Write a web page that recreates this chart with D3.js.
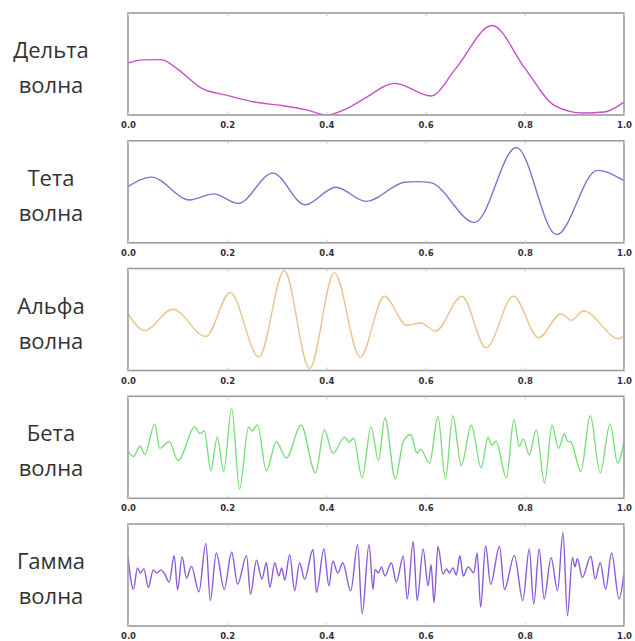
<!DOCTYPE html>
<html>
<head>
<meta charset="utf-8">
<script src="https://cdn.jsdelivr.net/npm/d3@7"></script>
<style>
  html, body { margin: 0; padding: 0; background: #fff; }
  svg { display: block; }
</style>
</head>
<body>
<svg id="chart" width="635" height="641"></svg>
<script>
// ---- data (x in 0..1, y = relative amplitude 0..1, bottom..top) ----
const panelNames = ["Дельта", "Тета", "Альфа", "Бета", "Гамма"];
const waveWord = "волна";
const xTicks = [0.0, 0.2, 0.4, 0.6, 0.8, 1.0];

const deltaX = [0, 0.03, 0.067, 0.1, 0.149, 0.2, 0.255, 0.31, 0.36, 0.4, 0.44, 0.476, 0.538, 0.611, 0.66, 0.734, 0.8, 0.86, 0.918, 0.96, 1.0];
const deltaY = [0.51, 0.54, 0.543, 0.45, 0.26, 0.193, 0.127, 0.093, 0.05, 0.0, 0.06, 0.16, 0.31, 0.187, 0.45, 0.877, 0.46, 0.093, 0.02, 0.03, 0.127];

const thetaX = [0, 0.047, 0.124, 0.173, 0.222, 0.292, 0.357, 0.419, 0.48, 0.558, 0.583, 0.61, 0.699, 0.783, 0.864, 0.946, 1.0];
const thetaY = [0.551, 0.644, 0.42, 0.48, 0.386, 0.683, 0.373, 0.545, 0.406, 0.594, 0.6, 0.59, 0.2, 0.935, 0.08, 0.71, 0.61];

const alphaX = [0, 0.034, 0.09, 0.157, 0.206, 0.264, 0.315, 0.366, 0.416, 0.468, 0.517, 0.562, 0.59, 0.62, 0.673, 0.722, 0.777, 0.828, 0.873, 0.894, 0.918, 0.99, 1.0];
const alphaY = [0.557, 0.393, 0.6, 0.334, 0.764, 0.131, 0.98, 0.02, 0.96, 0.131, 0.728, 0.443, 0.466, 0.387, 0.728, 0.223, 0.728, 0.321, 0.557, 0.492, 0.584, 0.311, 0.34];

const betaX = [0, 0.011, 0.024, 0.034, 0.054, 0.064, 0.083, 0.101, 0.135, 0.145, 0.154, 0.167, 0.18, 0.193, 0.209, 0.225, 0.243, 0.25, 0.261, 0.279, 0.299, 0.319, 0.349, 0.378, 0.396, 0.413, 0.437, 0.446, 0.455, 0.472, 0.49, 0.505, 0.518, 0.539, 0.555, 0.57, 0.583, 0.59, 0.608, 0.625, 0.64, 0.655, 0.672, 0.692, 0.712, 0.726, 0.734, 0.742, 0.763, 0.778, 0.789, 0.797, 0.809, 0.823, 0.84, 0.855, 0.868, 0.88, 0.886, 0.893, 0.913, 0.932, 0.952, 0.972, 0.987, 1.0];
const betaY = [0.46, 0.41, 0.51, 0.43, 0.73, 0.49, 0.555, 0.37, 0.70, 0.635, 0.66, 0.27, 0.60, 0.265, 0.884, 0.09, 0.70, 0.66, 0.72, 0.27, 0.555, 0.394, 0.716, 0.25, 0.67, 0.44, 0.60, 0.55, 0.59, 0.20, 0.70, 0.37, 0.79, 0.19, 0.555, 0.625, 0.44, 0.48, 0.345, 0.80, 0.19, 0.81, 0.32, 0.716, 0.30, 0.60, 0.52, 0.56, 0.20, 0.774, 0.51, 0.58, 0.426, 0.67, 0.15, 0.716, 0.49, 0.635, 0.56, 0.55, 0.265, 0.81, 0.25, 0.73, 0.345, 0.555];

const gammaX = [0, 0.011, 0.019, 0.025, 0.032, 0.041, 0.051, 0.058, 0.066, 0.074, 0.083, 0.093, 0.10, 0.109, 0.118, 0.128, 0.143, 0.157, 0.166, 0.178, 0.194, 0.209, 0.221, 0.239, 0.247, 0.259, 0.27, 0.279, 0.286, 0.296, 0.304, 0.31, 0.316, 0.326, 0.336, 0.346, 0.356, 0.373, 0.38, 0.395, 0.405, 0.413, 0.423, 0.433, 0.449, 0.463, 0.472, 0.486, 0.494, 0.498, 0.505, 0.511, 0.518, 0.531, 0.541, 0.555, 0.563, 0.575, 0.583, 0.595, 0.605, 0.611, 0.617, 0.625, 0.635, 0.642, 0.648, 0.655, 0.662, 0.669, 0.676, 0.686, 0.697, 0.704, 0.711, 0.721, 0.731, 0.749, 0.759, 0.779, 0.796, 0.809, 0.818, 0.829, 0.839, 0.853, 0.866, 0.877, 0.886, 0.896, 0.901, 0.906, 0.916, 0.933, 0.942, 0.952, 0.963, 0.975, 0.99, 1.0];
const gammaY = [0.68, 0.36, 0.57, 0.52, 0.56, 0.38, 0.55, 0.52, 0.55, 0.51, 0.43, 0.69, 0.355, 0.68, 0.47, 0.585, 0.335, 0.81, 0.25, 0.716, 0.36, 0.723, 0.41, 0.69, 0.313, 0.645, 0.46, 0.62, 0.38, 0.62, 0.49, 0.57, 0.45, 0.70, 0.345, 0.62, 0.46, 0.75, 0.33, 0.755, 0.394, 0.635, 0.52, 0.62, 0.345, 0.80, 0.12, 0.80, 0.36, 0.555, 0.52, 0.58, 0.49, 0.62, 0.43, 0.684, 0.265, 0.83, 0.25, 0.755, 0.394, 0.60, 0.23, 0.78, 0.51, 0.56, 0.52, 0.57, 0.50, 0.69, 0.49, 0.58, 0.52, 0.716, 0.185, 0.787, 0.41, 0.78, 0.36, 0.69, 0.25, 0.755, 0.215, 0.755, 0.265, 0.67, 0.345, 0.916, 0.10, 0.67, 0.58, 0.66, 0.475, 0.684, 0.46, 0.62, 0.36, 0.716, 0.265, 0.52];

const seriesX = [deltaX, thetaX, alphaX, betaX, gammaX];
const seriesY = [deltaY, thetaY, alphaY, betaY, gammaY];
const seriesColors = ["#c94fc9", "#7d74cc", "#e9c48c", "#7ddc7d", "#8a5ad8"];

// ---- layout ----
const svg = d3.select("#chart");
const left = 128, right = 624;
const panelTops = [13, 140.8, 268.5, 396.3, 524];
const panelH = 102;

const x = d3.scaleLinear().domain([0, 1]).range([left, right]);

panelNames.forEach((name, i) => {
  const top = panelTops[i];
  const y = d3.scaleLinear().domain([0, 1]).range([top + panelH, top]);
  const g = svg.append("g");

  const clipId = "clip" + i;
  svg.append("clipPath").attr("id", clipId)
    .append("rect").attr("x", left).attr("y", top).attr("width", right - left).attr("height", panelH);

  const data = seriesX[i].map((xv, k) => [xv, seriesY[i][k]]);
  const line = d3.line().x(d => x(d[0])).y(d => y(d[1])).curve(d3.curveMonotoneX);
  g.append("path")
    .attr("d", line(data))
    .attr("clip-path", `url(#${clipId})`)
    .attr("fill", "none")
    .attr("stroke", seriesColors[i])
    .attr("stroke-width", 1.4)
    .attr("stroke-linejoin", "round");

  // frame
  g.append("rect")
    .attr("x", left).attr("y", top)
    .attr("width", right - left).attr("height", panelH)
    .attr("fill", "none").attr("stroke", "#9c9c9c").attr("stroke-width", 1.6);

  // bottom axis labels with inward ticks
  const axB = d3.axisBottom(x).tickValues(xTicks).tickFormat(d3.format(".1f")).tickSize(-3).tickPadding(7);
  const ab = g.append("g").attr("transform", `translate(0,${top + panelH})`).call(axB);
  ab.select(".domain").remove();
  ab.selectAll("line").attr("stroke", "#c8c8c8");
  ab.selectAll("text").attr("font-family", "DejaVu Sans").attr("font-weight", "bold")
    .attr("font-size", 8.5).attr("fill", "#333");
  const axT = d3.axisTop(x).tickValues(xTicks).tickFormat("").tickSize(-3);
  const at = g.append("g").attr("transform", `translate(0,${top})`).call(axT);
  at.select(".domain").remove();
  at.selectAll("line").attr("stroke", "#c8c8c8");

  // left label
  const cy = top + panelH / 2;
  const lab = g.append("text").attr("text-anchor", "middle")
    .attr("font-family", "Open Sans").attr("font-size", 22).attr("fill", "#333");
  lab.append("tspan").attr("x", 51).attr("y", cy - 6).text(name);
  lab.append("tspan").attr("x", 51).attr("y", cy + 29).text(waveWord);
});
</script>
</body>
</html>
